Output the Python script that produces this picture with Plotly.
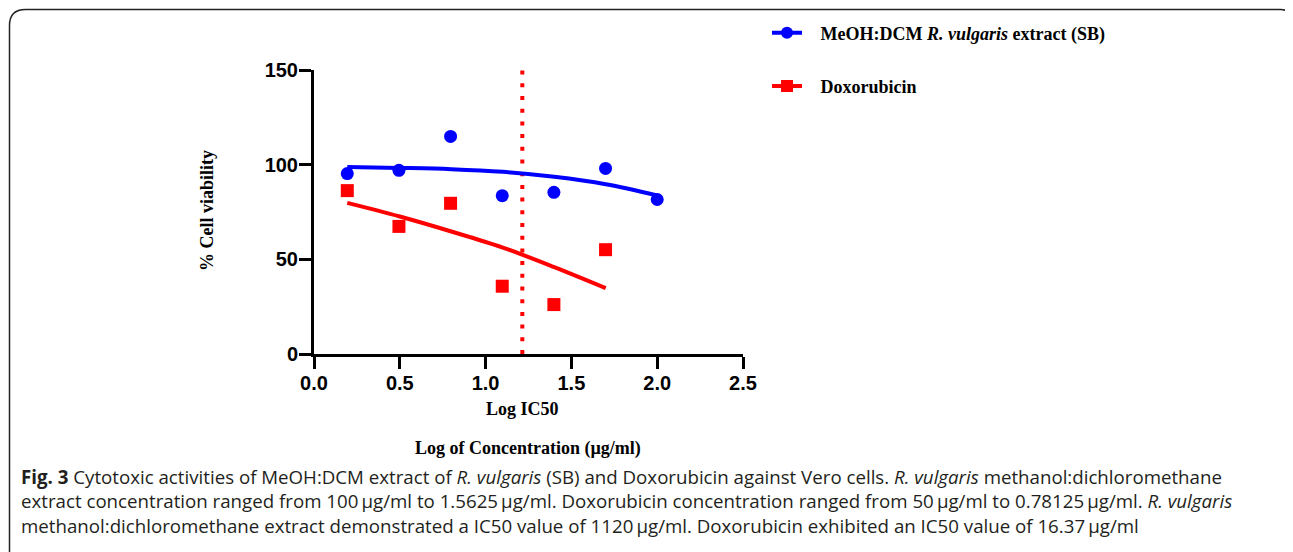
import plotly.graph_objects as go

# ---- data ----
log_conc = [0.194, 0.495, 0.796, 1.097, 1.398, 1.699, 2.0]
sb_viability = [95.3, 97.0, 114.9, 83.6, 85.4, 98.0, 81.6]
dox_log_conc = [0.194, 0.495, 0.796, 1.097, 1.398, 1.699]
dox_viability = [86.3, 67.4, 79.6, 35.8, 26.1, 55.1]

# fitted curves
sb_fit_x = [0.194, 0.5, 0.8, 1.1, 1.4, 1.7, 2.0]
sb_fit_y = [98.8, 98.3, 97.6, 96.2, 93.6, 89.7, 83.8]
dox_fit_x = [0.194, 0.5, 0.8, 1.1, 1.4, 1.7]
dox_fit_y = [79.8, 72.6, 64.7, 56.2, 45.9, 34.8]

log_ic50 = 1.214

x_ticks = [0.0, 0.5, 1.0, 1.5, 2.0, 2.5]
y_ticks = [0, 50, 100, 150]

sb_name = "&nbsp;&nbsp;&nbsp;<b>MeOH:DCM <i>R. vulgaris</i> extract (SB)</b>"
dox_name = "&nbsp;&nbsp;&nbsp;<b>Doxorubicin</b>"

BLUE = "#0000FF"
RED = "#FF0000"

OFF = 8  # page body margin
W, H = 1293 - OFF, 552 - OFF
# plot area in reference-screen pixels
SL, SR, ST, SB = 314, 743, 70, 354
L, R, T, B = SL - OFF, SR - OFF, ST - OFF, SB - OFF


def px(xs):
    return (xs - OFF - L) / (R - L)


def py(ys):
    return (B - (ys - OFF)) / (B - T)


fig = go.Figure()

fig.add_trace(go.Scatter(x=[log_ic50, log_ic50], y=[0, 150], mode="lines",
                         line=dict(color=RED, width=4, dash="4px,8.7px"),
                         showlegend=False, hoverinfo="skip"))

fig.add_trace(go.Scatter(x=sb_fit_x, y=sb_fit_y, mode="lines",
                         line=dict(color=BLUE, width=4, shape="spline"),
                         showlegend=False))
fig.add_trace(go.Scatter(x=dox_fit_x, y=dox_fit_y, mode="lines",
                         line=dict(color=RED, width=4, shape="spline"),
                         showlegend=False))
fig.add_trace(go.Scatter(x=log_conc, y=sb_viability, mode="markers",
                         marker=dict(color=BLUE, size=13, symbol="circle"),
                         showlegend=False))
fig.add_trace(go.Scatter(x=dox_log_conc, y=dox_viability, mode="markers",
                         marker=dict(color=RED, size=13, symbol="square"),
                         showlegend=False))

# legend entries
fig.add_trace(go.Scatter(x=[None], y=[None], mode="lines+markers", name=sb_name,
                         legendgroup="a",
                         line=dict(color=BLUE, width=4),
                         marker=dict(color=BLUE, size=12, symbol="circle")))
fig.add_trace(go.Scatter(x=[None], y=[None], mode="lines+markers", name=dox_name,
                         legendgroup="b",
                         line=dict(color=RED, width=4),
                         marker=dict(color=RED, size=12, symbol="square")))

axis_common = dict(
    showline=True, linewidth=3, linecolor="black",
    ticks="outside", ticklen=12, tickwidth=3, tickcolor="black",
    showgrid=False, zeroline=False, automargin=False,
    tickfont=dict(family="Liberation Sans", size=20, color="black", weight="bold"),
)

fig.update_xaxes(range=[0, 2.5], tickvals=x_ticks, tickformat=".1f",
                 ticklabelstandoff=-3, **axis_common)
fig.update_yaxes(range=[0, 150], tickvals=y_ticks, ticklabelstandoff=-3,
                 **axis_common)

serif = "Liberation Serif"

annotations = [
    dict(text="<b>% Cell viability</b>", xref="paper", yref="paper",
         x=px(207), y=py(211), textangle=-90, showarrow=False,
         font=dict(family=serif, size=18, color="black"),
         xanchor="center", yanchor="middle"),
    dict(text="<b>Log IC50</b>", xref="x", yref="paper",
         x=log_ic50, y=py(409), showarrow=False,
         font=dict(family=serif, size=18, color="black"),
         xanchor="center", yanchor="middle"),
    dict(text="<b>Log of Concentration (µg/ml)</b>", xref="paper", yref="paper",
         x=px(528), y=py(449), showarrow=False,
         font=dict(family=serif, size=18, color="black"),
         xanchor="center", yanchor="middle"),
]

caption_lines = [
    "<b>Fig. 3</b> Cytotoxic activities of MeOH:DCM extract of <i>R. vulgaris</i> (SB) and Doxorubicin against Vero cells. <i>R. vulgaris</i> methanol:dichloromethane",
    "extract concentration ranged from 100\u2009µg/ml to 1.5625\u2009µg/ml. Doxorubicin concentration ranged from 50\u2009µg/ml to 0.78125\u2009µg/ml. <i>R. vulgaris</i>",
    "methanol:dichloromethane extract demonstrated a IC50 value of 1120\u2009µg/ml. Doxorubicin exhibited an IC50 value of 16.37\u2009µg/ml",
]
annotations.append(dict(text="<br>".join(caption_lines), xref="paper", yref="paper",
                        x=px(19), y=py(477 + 23.5), showarrow=False,
                        xanchor="left", yanchor="middle", align="left",
                        font=dict(family="Open Sans", size=18.7, color="#231f20")))

# rounded frame around the figure panel
fx0, fy0, fx1, fy1 = 9.5, 9.5, 1290.5, 570
rl, rr = 16, 10
path = (f"M {px(fx0)},{py(fy1)} L {px(fx0)},{py(fy0 + rl)} "
        f"Q {px(fx0)},{py(fy0)} {px(fx0 + rl)},{py(fy0)} "
        f"L {px(fx1 - rr)},{py(fy0)} "
        f"Q {px(fx1)},{py(fy0)} {px(fx1)},{py(fy0 + rr)} "
        f"L {px(fx1)},{py(fy1)}")

fig.update_layout(
    width=W, height=H, autosize=False,
    margin=dict(l=L, r=W - R, t=T, b=H - B, pad=0, autoexpand=False),
    plot_bgcolor="white", paper_bgcolor="white",
    showlegend=True,
    legend=dict(x=px(767), y=1 - 6.5 / H, xanchor="left", yanchor="top",
                yref="container",
                font=dict(family=serif, size=18, color="black"),
                tracegroupgap=27, bgcolor="rgba(0,0,0,0)", borderwidth=0),
    annotations=annotations,
    shapes=[dict(type="path", path=path, xref="paper", yref="paper",
                 line=dict(color="#222222", width=1.5))],
)

fig.write_html("out.html")
